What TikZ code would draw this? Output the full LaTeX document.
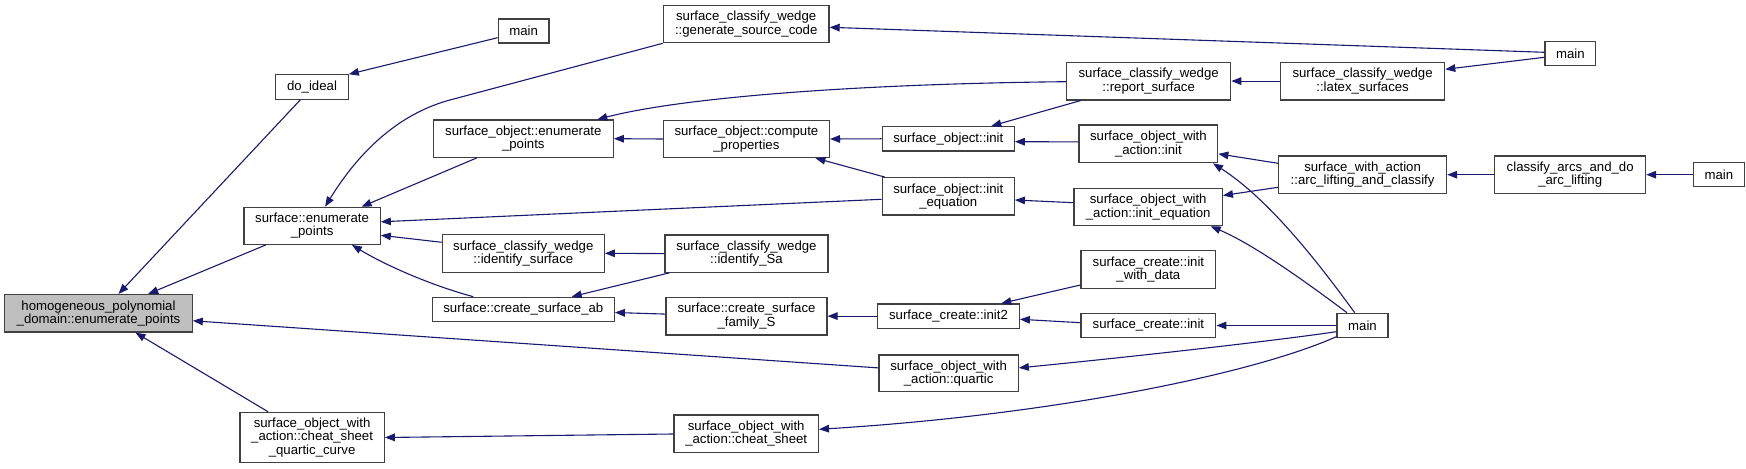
\documentclass[tikz,border=0pt]{standalone}
\usepackage{fontspec}
\setmainfont{Liberation Sans}
\usetikzlibrary{arrows.meta,calc}
\definecolor{edgeblue}{HTML}{191970}
\definecolor{hlgray}{HTML}{BFBFBF}
\newcommand\mybox[7][]{\node[box,#1,minimum width=#5*0.5pt,minimum height=#6*0.5pt] (#2) at (#3,#4) {#7};}
\begin{document}
\begin{tikzpicture}[x=0.5pt,y=-0.5pt,
  box/.style={draw=black!75,line width=0.6pt,inner sep=0pt,align=center,fill=white,
    font=\fontsize{6.6}{6.67}\selectfont},
  edge/.style={draw=edgeblue,line width=0.55pt,-{Triangle[length=5pt,width=3.8pt]}}]
\useasboundingbox (0,0) rectangle (1746,469);
% nodes
\mybox[fill=hlgray]{hpd}{98.5}{313.3}{187.5}{37.5}{homogeneous\_polynomial\\\_domain::enumerate\_points}
\mybox{doideal}{312}{87}{72.5}{24.3}{do\_ideal}
\mybox{senum}{312.1}{225.8}{136.3}{37}{surface::enumerate\\\_points}
\mybox{cheatq}{312.1}{437.5}{144.4}{50.3}{surface\_object\_with\\\_action::cheat\_sheet\\\_quartic\_curve}
\mybox{maina}{523.6}{31}{50.7}{24}{main}
\mybox{soenum}{523.3}{138.7}{180}{37.3}{surface\_object::enumerate\\\_points}
\mybox{scidsurf}{523.3}{253.3}{162}{38}{surface\_classify\_wedge\\::identify\_surface}
\mybox{screateab}{523.3}{309.5}{182}{24.4}{surface::create\_surface\_ab}
\mybox{gensrc}{746.2}{24}{165.7}{37.4}{surface\_classify\_wedge\\::generate\_source\_code}
\mybox{compute}{746.4}{139}{166}{37}{surface\_object::compute\\\_properties}
\mybox{scidsa}{746.5}{253.6}{163}{37.3}{surface\_classify\_wedge\\::identify\_Sa}
\mybox{cfamily}{746.5}{316.1}{161}{37.7}{surface::create\_surface\\\_family\_S}
\mybox{cheat}{746.2}{433.6}{144.4}{37.3}{surface\_object\_with\\\_action::cheat\_sheet}
\mybox{report}{1148.7}{81.1}{164}{37.7}{surface\_classify\_wedge\\::report\_surface}
\mybox{soinit}{948.3}{138.8}{132}{24.3}{surface\_object::init}
\mybox{soiniteq}{948.3}{196.3}{132}{37.3}{surface\_object::init\\\_equation}
\mybox{inittwo}{948.5}{316.1}{141.6}{24.3}{surface\_create::init2}
\mybox{quartic}{948.6}{373.4}{139.3}{36.7}{surface\_object\_with\\\_action::quartic}
\mybox{latex}{1362.6}{81.1}{164.2}{37.7}{surface\_classify\_wedge\\::latex\_surfaces}
\mybox{sowainit}{1148.4}{143.9}{138.7}{37.7}{surface\_object\_with\\\_action::init}
\mybox{sowaiteq}{1148.2}{207}{148.3}{37.4}{surface\_object\_with\\\_action::init\_equation}
\mybox{initdata}{1148.4}{269.5}{134.8}{37.6}{surface\_create::init\\\_with\_data}
\mybox{scinit}{1148.4}{325.5}{134.8}{24.4}{surface\_create::init}
\mybox{mainb}{1570.3}{53.7}{50.5}{24}{main}
\mybox{swaarc}{1362.6}{174.7}{168}{37.3}{surface\_with\_action\\::arc\_lifting\_and\_classify}
\mybox{mainc}{1362.5}{325.5}{51}{24.4}{main}
\mybox{classify}{1570.2}{174.7}{150.8}{37.3}{classify\_arcs\_and\_do\\\_arc\_lifting}
\mybox{maind}{1718.9}{174.7}{51}{24}{main}
% edges (caller -> callee, arrow at callee)
\draw[edge] ($(maina.west)+(0,6.7)$) -- (doideal.north east);
\draw[edge] ($(doideal.south)+(-11.6,0)$) -- ($(hpd.north)+(20,0)$);
\draw[edge] (gensrc.south west) -- (450,100) .. controls (400,113.4) and (360,150) .. ($(senum.north)+(13,0)$);
\draw[edge] ($(soenum.south)+(-46.6,0)$) -- ($(senum.north)+(49.5,0)$);
\draw[edge] ($(soiniteq.west)+(0,3)$) -- ($(senum.east)+(0,-4)$);
\draw[edge] ($(scidsurf.west)+(0,-11)$) -- ($(senum.east)+(0,9.5)$);
\draw[edge] ($(screateab.north)+(-50,0)$) .. controls (430,285) and (385,265) .. ($(senum.south)+(39.8,0)$);
\draw[edge] ($(senum.south)+(-46.2,0)$) -- ($(hpd.north)+(49.7,0)$);
\draw[edge] ($(cheatq.north)+(-44,0)$) -- ($(hpd.south)+(37,0)$);
\draw[edge] ($(quartic.west)+(0,-5.5)$) -- ($(hpd.east)+(0,7.5)$);
\draw[edge] ($(cheat.west)+(0,0.4)$) -- (cheatq.east);
\draw[edge] ($(mainb.west)+(0,-1.4)$) -- ($(gensrc.east)+(0,3.3)$);
\draw[edge] ($(report.west)+(0,0.6)$) .. controls (850,84) and (680,98) .. ($(soenum.north east)+(-16.6,0)$);
\draw[edge] (compute.west) -- (soenum.east);
\draw[edge] (soinit.west) -- (compute.east);
\draw[edge] ($(soiniteq.north west)+(3,0)$) -- ($(compute.south)+(69,0)$);
\draw[edge] ($(report.south west)+(14.5,0)$) -- ($(soinit.north)+(43,0)$);
\draw[edge] ($(sowaiteq.west)+(0,-4.3)$) -- ($(soiniteq.east)+(0,3.7)$);
\draw[edge] ($(sowainit.west)+(0,-2)$) -- ($(soinit.east)+(0,2.9)$);
\draw[edge] (latex.west) -- (report.east);
\draw[edge] ($(mainb.west)+(0,3.6)$) -- ($(latex.east)+(0,-11.8)$);
\draw[edge] ($(swaarc.west)+(0,-11.4)$) -- ($(sowainit.east)+(0,10)$);
\draw[edge] ($(swaarc.west)+(0,12.6)$) -- ($(sowaiteq.east)+(0,-11.5)$);
\draw[edge] (classify.west) -- (swaarc.east);
\draw[edge] (maind.west) -- (classify.east);
\draw[edge] ($(mainc.north)+(-7.8,0)$) .. controls (1320,265) and (1270,200) .. ($(sowainit.south)+(64.6,0)$);
\draw[edge] ($(mainc.north)+(-15.5,0)$) .. controls (1310,285) and (1255,245) .. ($(sowaiteq.south)+(62.5,0)$);
\draw[edge] (mainc.west) -- (scinit.east);
\draw[edge] ($(mainc.west)+(0,6.2)$) .. controls (1280,340) and (1150,355) .. ($(quartic.east)+(0,-5.5)$);
\draw[edge] ($(mainc.west)+(0,11.2)$) .. controls (1250,375) and (1050,415) .. ($(cheat.east)+(0,-4.3)$);
\draw[edge] (scidsa.west) -- (scidsurf.east);
\draw[edge] ($(scidsa.south west)+(5,0)$) -- ($(screateab.north)+(48.4,0)$);
\draw[edge] ($(cfamily.west)+(0,-2)$) -- ($(screateab.east)+(0,3)$);
\draw[edge] (inittwo.west) -- (cfamily.east);
\draw[edge] ($(initdata.west)+(0,15.5)$) -- ($(inittwo.north)+(52.8,0)$);
\draw[edge] ($(scinit.west)+(0,-2.8)$) -- ($(inittwo.east)+(0,3.2)$);
\end{tikzpicture}
\end{document}
